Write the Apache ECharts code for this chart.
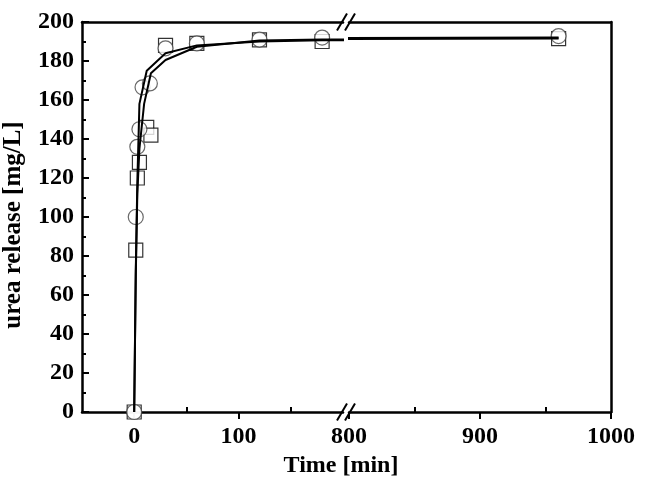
<!DOCTYPE html>
<html><head><meta charset="utf-8">
<script src="https://cdn.jsdelivr.net/npm/echarts@6/dist/echarts.min.js"></script>
<style>html,body{margin:0;padding:0;background:#fff}#c{width:648px;height:497px}</style>
</head><body><div id="c"></div>
<script>
// measured data (time in min, urea release in mg/L)
const circleTimes  = [0, 1.5, 3, 5, 8, 15, 30, 60, 120, 180, 960];
const circleValues = [0, 100, 136, 145, 166.5, 168.5, 186.5, 189, 191, 192, 192.8];
const squareTimes  = [0, 1.5, 3, 5, 12, 16, 30, 60, 120, 180, 960];
const squareValues = [0, 83, 120, 128, 146, 142, 188, 189, 190.8, 190, 191.5];
// fitted curves as drawn
const fitATimes  = [0, 1.5, 3, 5, 12, 30, 60, 120, 180, 960];
const fitAValues = [0, 72, 118, 158, 175, 184, 188, 190, 190.6, 191.5];
const fitBTimes  = [0, 1.5, 3, 5, 9.5, 16, 30, 60, 120, 180, 960];
const fitBValues = [0, 70, 112, 135, 158, 173.7, 180.5, 187.3, 190.5, 191, 192];
// axis ticks
const leftMajor = [0, 100], leftMinor = [50, 150];
const rightMajor = [800, 900, 1000], rightMinor = [850, 950];

const FONT = '"Liberation Serif","Times New Roman",serif';
const pairs = (t, v) => t.map((x, i) => [x, v[i]]);

const G0L = 81, G0W = 262, G1L = 349, RIGHT = 37, TOP = 22, BOTTOM = 85;
const W = 648, H = 497;
const yBottom = H - BOTTOM, yTop = TOP;

const axLine = {show: true, onZero: false, lineStyle: {color: '#000', width: 2.5}};
const lbl = {color: '#000', fontFamily: FONT, fontWeight: 'bold', fontSize: 24};
const plain = v => String(v);

function bottomMajor(gi, min, max, vals) {
  return {type: 'value', gridIndex: gi, position: 'bottom', min, max,
    axisLine: axLine, splitLine: {show: false},
    axisTick: {show: true, inside: false, length: 7, customValues: vals, lineStyle: {color: '#000', width: 2}},
    axisLabel: Object.assign({show: true, margin: 13, customValues: vals, formatter: plain}, lbl)};
}
function bottomMinor(gi, min, max, vals) {
  return {type: 'value', gridIndex: gi, position: 'bottom', min, max,
    axisLine: {show: false}, splitLine: {show: false}, axisLabel: {show: false},
    axisTick: {show: true, inside: true, length: 5, customValues: vals, lineStyle: {color: '#000', width: 2}}};
}
function topAxis(gi, min, max) {
  return {type: 'value', gridIndex: gi, position: 'top', min, max,
    axisLine: axLine, splitLine: {show: false}, axisLabel: {show: false}, axisTick: {show: false}};
}

const series = [];
[0, 1].forEach(gi => {
  const xi = gi * 3;
  series.push({type: 'scatter', xAxisIndex: xi, yAxisIndex: gi, clip: true, z: 2,
    symbol: 'rect', symbolSize: 14, data: pairs(squareTimes, squareValues),
    itemStyle: {color: '#fff', borderColor: '#000', borderWidth: 1.2}});
  series.push({type: 'scatter', xAxisIndex: xi, yAxisIndex: gi, clip: true, z: 3,
    symbol: 'circle', symbolSize: 15, data: pairs(circleTimes, circleValues),
    itemStyle: {color: '#fff', borderColor: '#444', borderWidth: 1.2}});
  series.push({type: 'line', xAxisIndex: xi, yAxisIndex: gi, clip: true, z: 4, symbol: 'none',
    data: pairs(fitATimes, fitAValues), lineStyle: {color: '#000', width: 2}});
  series.push({type: 'line', xAxisIndex: xi, yAxisIndex: gi, clip: true, z: 4, symbol: 'none',
    data: pairs(fitBTimes, fitBValues), lineStyle: {color: '#000', width: 2}});
});

function slash(cx, cy) {
  return {type: 'line', z: 100, shape: {x1: cx - 5, y1: cy + 8.5, x2: cx + 5, y2: cy - 8.5},
    style: {stroke: '#000', lineWidth: 2}};
}
const gapA = G0L + G0W - 1, gapB = G1L + 1;

const option = {
  backgroundColor: '#fff',
  animation: false,
  grid: [
    {left: G0L, top: TOP, width: G0W, bottom: BOTTOM},
    {left: G1L, top: TOP, right: RIGHT, bottom: BOTTOM}
  ],
  xAxis: [
    bottomMajor(0, -50, 200, leftMajor), bottomMinor(0, -50, 200, leftMinor), topAxis(0, -50, 200),
    bottomMajor(1, 800, 1000, rightMajor), bottomMinor(1, 800, 1000, rightMinor), topAxis(1, 800, 1000)
  ],
  yAxis: [
    {type: 'value', gridIndex: 0, position: 'left', min: 0, max: 200, interval: 20,
      name: 'urea release [mg/L]', nameLocation: 'middle', nameGap: 56,
      nameTextStyle: Object.assign({}, lbl, {fontSize: 25, padding: [0, 16, 0, 0]}),
      axisLine: axLine, splitLine: {show: false},
      axisTick: {show: true, inside: true, length: 7, lineStyle: {color: '#000', width: 2}},
      minorTick: {show: true, splitNumber: 2, length: 4, lineStyle: {color: '#000', width: 2}},
      axisLabel: Object.assign({margin: 8, formatter: plain}, lbl)},
    {type: 'value', gridIndex: 1, position: 'right', min: 0, max: 200, interval: 20,
      axisLine: axLine, splitLine: {show: false}, axisTick: {show: false}, axisLabel: {show: false}}
  ],
  series,
  graphic: [
    slash(gapA, yTop), slash(gapB, yTop), slash(gapA, yBottom), slash(gapB, yBottom),
    {type: 'text', z: 100, x: 341, y: 466,
      style: {text: 'Time [min]', textAlign: 'center', textVerticalAlign: 'middle',
        fontFamily: FONT, fontWeight: 'bold', fontSize: 24, fill: '#000'}}
  ]
};
const chart = echarts.init(document.getElementById('c'), null, {renderer: 'canvas'});
chart.setOption(option);
</script>
</body></html>
